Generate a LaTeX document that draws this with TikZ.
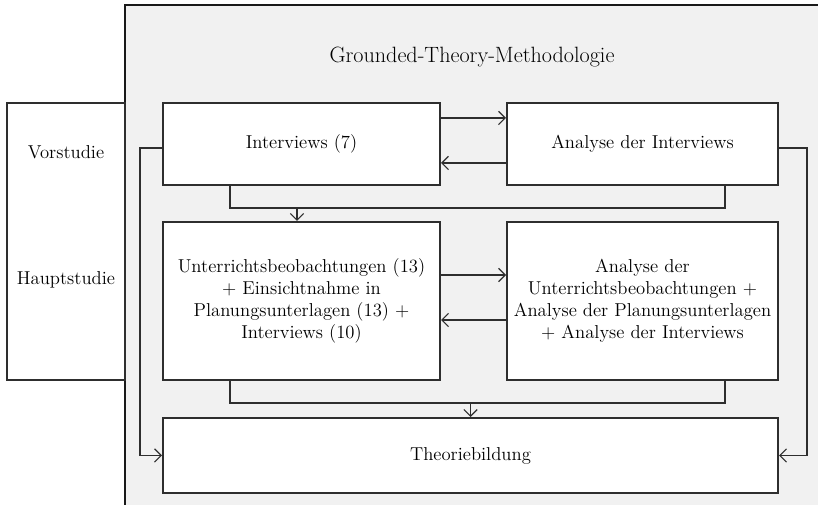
\documentclass[tikz,border=0pt]{standalone}
\usetikzlibrary{arrows.meta,calc}
\definecolor{panelgrey}{HTML}{F1F1F1}
\definecolor{edgegrey}{HTML}{2E2E2E}
\begin{document}
\begin{tikzpicture}[x=0.75pt,y=-0.75pt,
  font=\fontsize{14}{16.5}\selectfont,
  stagebox/.style={draw=edgegrey,line width=1.5pt,fill=white,rectangle,inner sep=0pt,align=center,text=black},
  link/.style={draw=edgegrey,line width=0.9pt},
  flow/.style={link,-{Straight Barb[length=5pt,width=10pt,line width=0.9pt]}},
  label/.style={text=black,align=center,inner sep=0pt}]
  \useasboundingbox (0,0) rectangle (818,505);
  % methodology panel
  \fill[panelgrey] (125,5) rectangle (818,505);
  \draw[black!90,line width=1.5pt] (125,505) -- (125,5) -- (818,5);
  \node[label,font=\fontsize{16.6}{19}\selectfont] (gtm) at (472,57) {Grounded-Theory-Methodologie};
  % study phases
  \node[stagebox,minimum width=118*0.75pt,minimum height=277*0.75pt] (phase) at (66,241.5) {};
  \node[label] (vor) at (66,152) {Vorstudie};
  \node[label] (haupt) at (66,280) {Hauptstudie};
  % boxes
  \node[stagebox,minimum width=277*0.75pt,minimum height=82*0.75pt] (int) at (301.5,144) {Interviews (7)};
  \node[stagebox,minimum width=271*0.75pt,minimum height=82*0.75pt] (ana) at (642.5,144) {Analyse der Interviews};
  \node[stagebox,minimum width=277*0.75pt,minimum height=158*0.75pt] (obs) at (301.5,301)
    {Unterrichtsbeobachtungen (13)\\+ Einsichtnahme in\\Planungsunterlagen (13) +\\Interviews (10)};
  \node[stagebox,minimum width=271*0.75pt,minimum height=158*0.75pt] (anb) at (642.5,301)
    {Analyse der\\Unterrichtsbeobachtungen +\\Analyse der Planungsunterlagen\\+ Analyse der Interviews};
  \node[stagebox,minimum width=615*0.75pt,minimum height=75*0.75pt] (theo) at (470.5,455.5) {Theoriebildung};
  % exchange between data and analysis
  \draw[flow] (int.east |- 0,118) -- (ana.west |- 0,118);
  \draw[flow] (ana.west |- 0,163) -- (int.east |- 0,163);
  \draw[flow] (obs.east |- 0,275) -- (anb.west |- 0,275);
  \draw[flow] (anb.west |- 0,320) -- (obs.east |- 0,320);
  % merging into the next stage
  \coordinate (m1) at (297,208);
  \draw[link] (int.south -| 230,0) -- (230,208) -- (725,208) -- (ana.south -| 725,0);
  \draw[flow] (m1) -- (m1 |- obs.north);
  \coordinate (m2) at (470.5,403);
  \draw[link] (obs.south -| 230,0) -- (230,403) -- (725,403) -- (anb.south -| 725,0);
  \draw[flow] (m2) -- (m2 |- theo.north);
  % side returns to theory building
  \draw[flow] (int.west |- 0,148) -- (140,148) -- (140,455.5) -- (theo.west);
  \draw[flow] (ana.east |- 0,148) -- (807,148) -- (807,455.5) -- (theo.east);
\end{tikzpicture}
\end{document}
